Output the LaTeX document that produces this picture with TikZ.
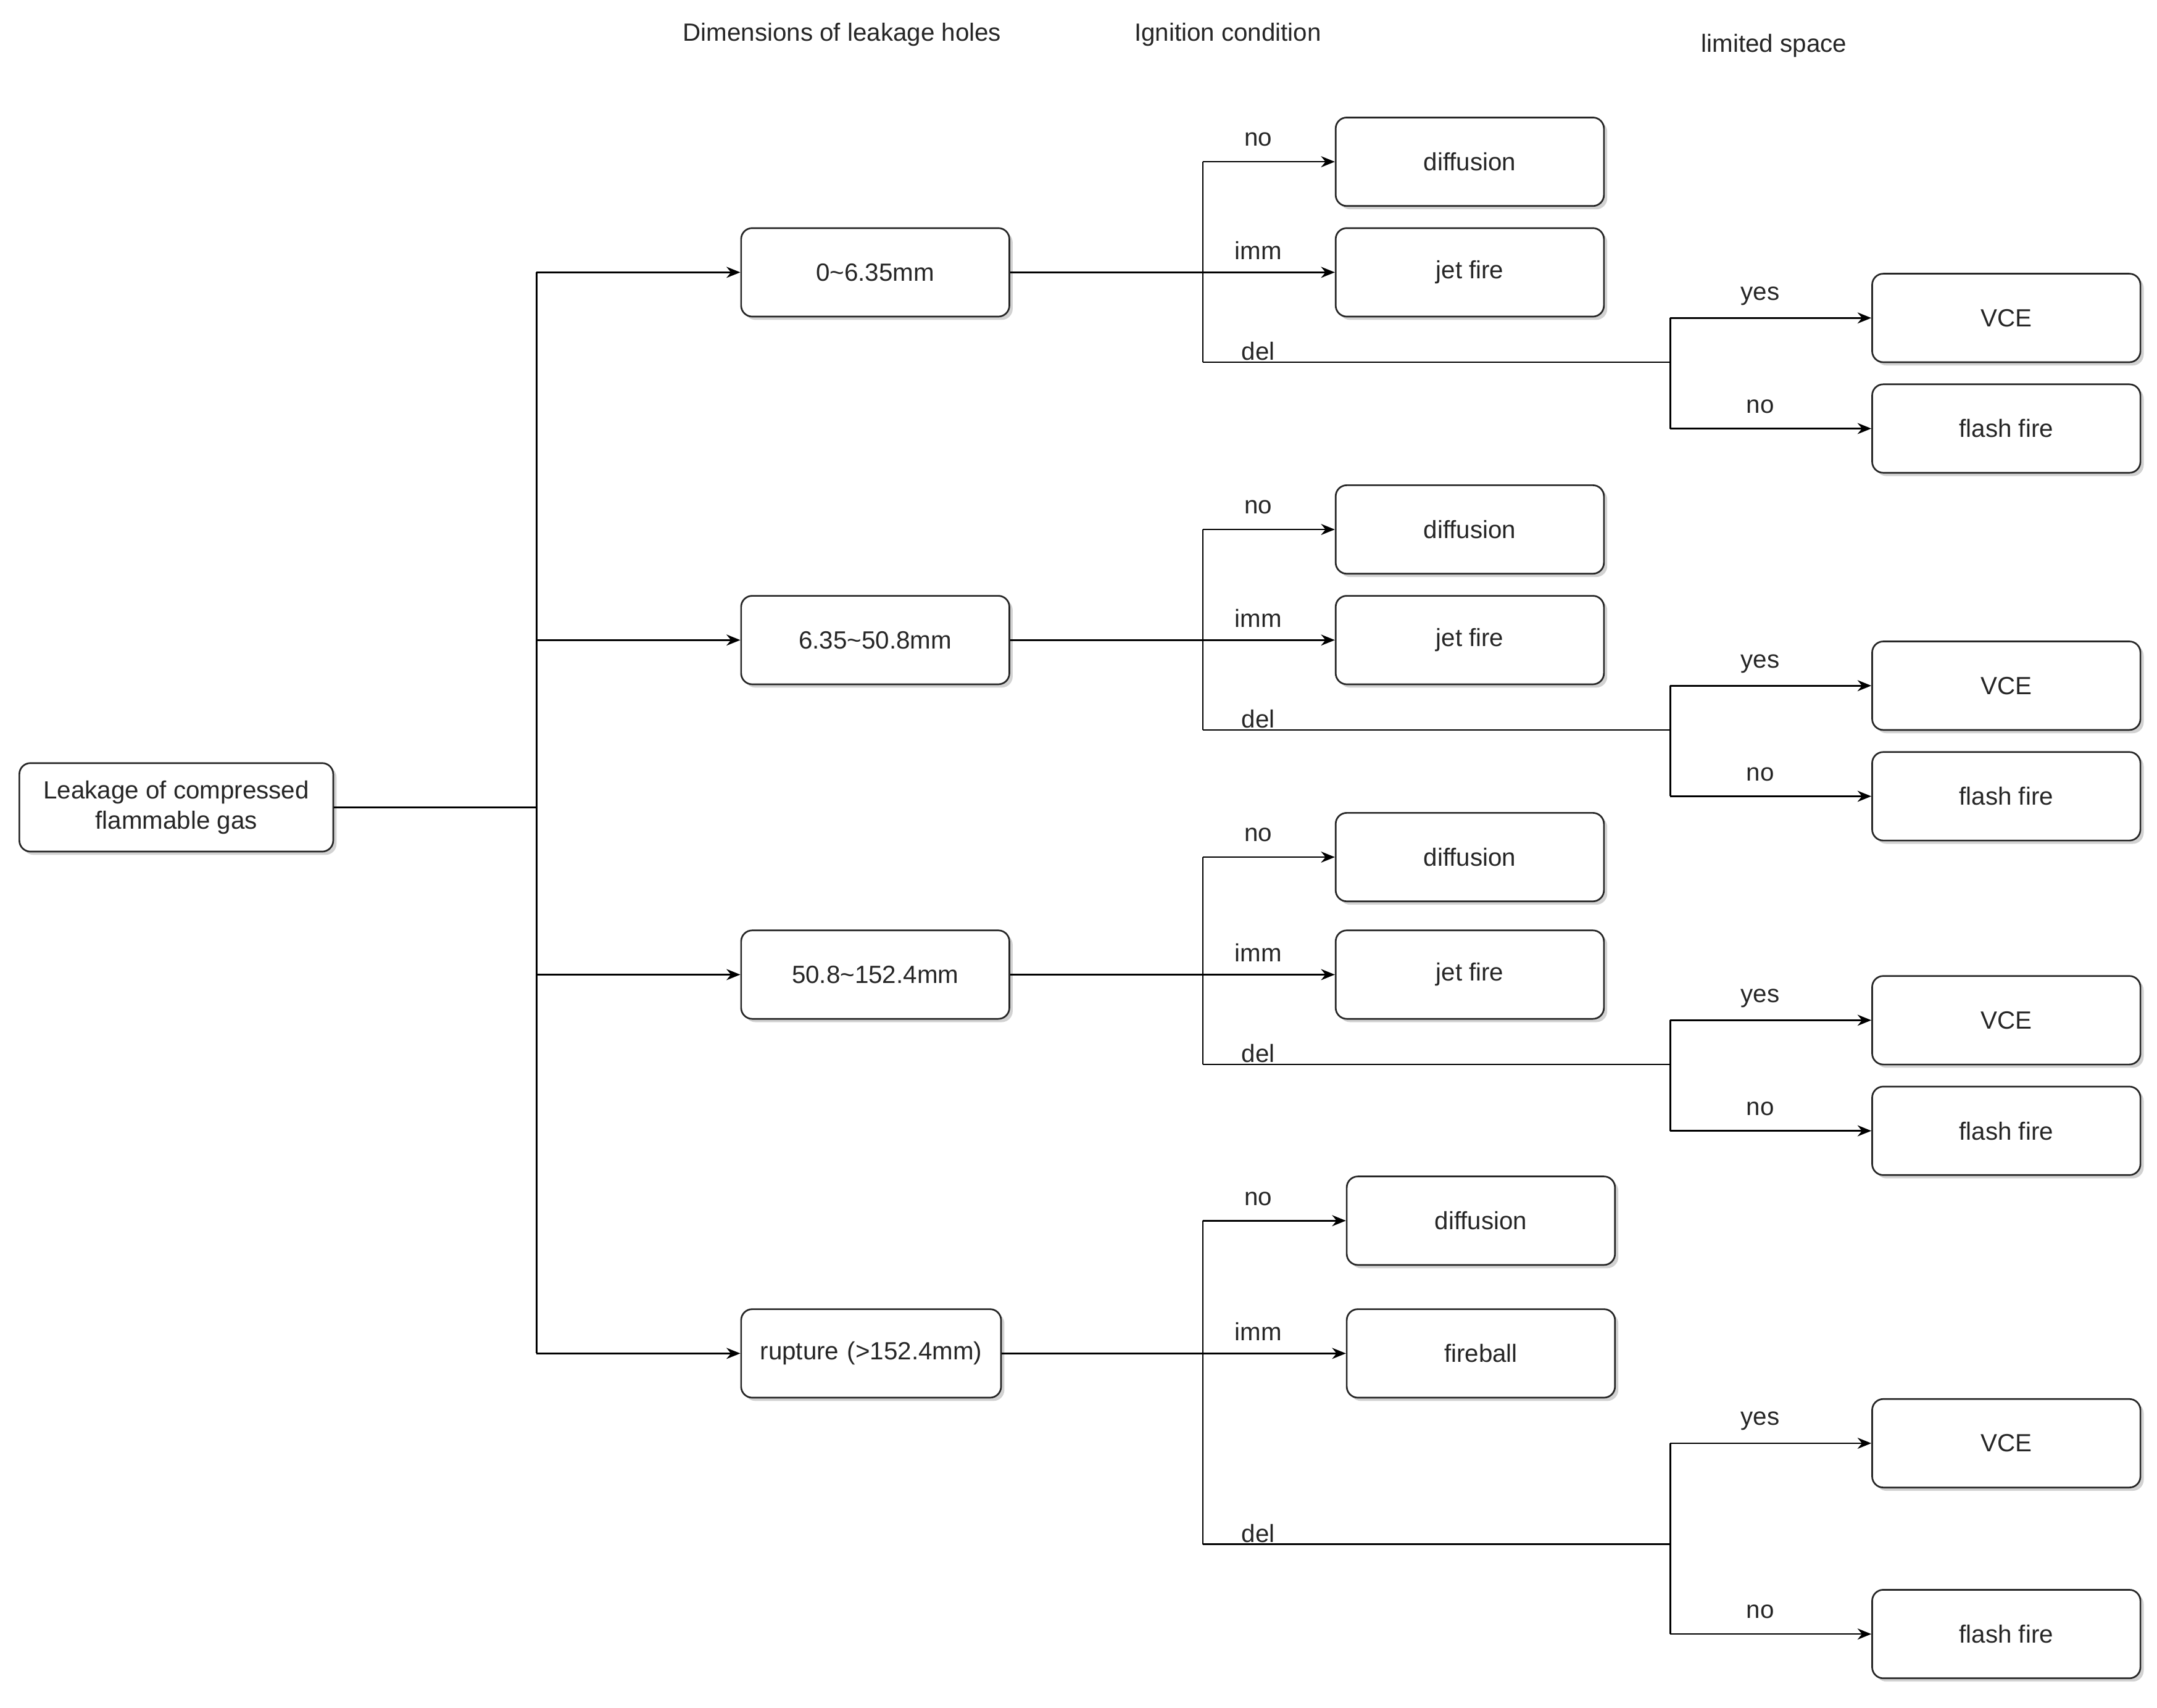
\documentclass[tikz,border=0pt]{standalone}
\usepackage{fontspec}
\setmainfont{Liberation Sans}
\usetikzlibrary{shadows,arrows.meta}
\begin{document}
\begin{tikzpicture}[x=0.5pt,y=-0.5pt,
  box/.style={draw=black!85,line width=0.6pt,rounded corners=4pt,fill=white,
    drop shadow={shadow xshift=1.2pt,shadow yshift=-1.2pt,fill=black!35},
    minimum width=97pt,minimum height=32pt,inner sep=1pt,font=\fontsize{9}{11}\selectfont,text=black!85,align=center},
  lbl/.style={font=\fontsize{9}{11}\selectfont,text=black!85,inner sep=0pt},
  ln/.style={line width=0.6pt,black},
  arr/.style={ln,-{Stealth[length=5pt,width=4pt]}}]
\useasboundingbox (0,0) rectangle (1560,1235.5);
\node[lbl] (h1) at (609,25) {Dimensions of leakage holes};
\node[lbl] (h2) at (888,25) {Ignition condition};
\node[lbl] (h3) at (1283,33) {limited space};
\node[box,minimum width=113.5pt] (root) at (127.5,584) {Leakage of compressed\\flammable gas};
\coordinate (t) at (388,584);
\draw[ln] (root.east) -- (t);
\foreach \i/\t/\w/\xc/\yc/\yd/\yj/\yl/\yv/\yf/\xb/\tb in {
 1/{0\textasciitilde 6.35mm}/97/633/197/117/197/262/230/310/1063/jet fire,
 2/{6.35\textasciitilde 50.8mm}/97/633/463/383/463/528/496/576/1063/jet fire,
 3/{50.8\textasciitilde 152.4mm}/97/633/705/620/705/770/738/818/1063/jet fire,
 4/{rupture\,\,(>152.4mm)}/94/630/979/883/979/1117/1044/1182/1071/fireball}{
  \node[box,minimum width=\w pt] (a\i) at (\xc,\yc) {\t};
  \coordinate (ta\i) at (388,\yc);
  \draw[ln] (t) -- (ta\i);
  \draw[arr] (ta\i) -- (a\i.west);
  \node[box] (d\i) at (\xb,\yd) {diffusion};
  \node[box] (j\i) at (\xb,\yj) {\tb};
  \node[box] (v\i) at (1451,\yv) {VCE};
  \node[box] (f\i) at (1451,\yf) {flash fire};
  \coordinate (sd\i) at (870,\yd);
  \coordinate (sj\i) at (870,\yj);
  \coordinate (sl\i) at (870,\yl);
  \coordinate (el\i) at (1208,\yl);
  \coordinate (ev\i) at (1208,\yv);
  \coordinate (ef\i) at (1208,\yf);
  \draw[arr] (a\i.east) -- (j\i.west);
  \draw[ln] (sl\i) -- (sd\i);
  \draw[arr] (sd\i) -- (d\i.west);
  \draw[ln] (sl\i) -- (el\i);
  \draw[ln] (ev\i) -- (ef\i);
  \draw[arr] (ev\i) -- (v\i.west);
  \draw[arr] (ef\i) -- (f\i.west);
  \node[lbl] (ln\i) at (910,\yd-16) {no};
  \node[lbl] (li\i) at (910,\yj-16) {imm};
  \node[lbl] (ld\i) at (910,\yl-8) {del};
  \node[lbl] (ly\i) at (1273,\yv-16) {yes};
  \node[lbl] (lo\i) at (1273,\yf-16) {no};
}
\draw[ln] (ta1) -- (ta4);
\end{tikzpicture}
\end{document}
